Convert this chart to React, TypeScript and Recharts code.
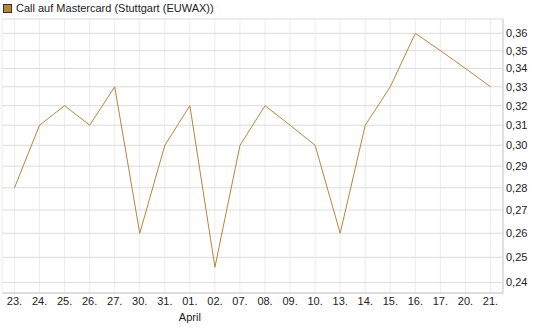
import { LineChart, Line, XAxis, YAxis, CartesianGrid } from "recharts";

const DATES = ["23.", "24.", "25.", "26.", "27.", "30.", "31.", "01.", "02.", "07.", "08.", "09.", "10.", "13.", "14.", "15.", "16.", "17.", "20.", "21."];
const PRICES = [0.28, 0.31, 0.32, 0.31, 0.33, 0.26, 0.3, 0.32, 0.246, 0.3, 0.32, 0.31, 0.3, 0.26, 0.31, 0.33, 0.36, 0.35, 0.34, 0.33];
const MONTHS: Record<string, string> = { "01.": "April" };
const Y_TICKS = [0.24, 0.25, 0.26, 0.27, 0.28, 0.29, 0.3, 0.31, 0.32, 0.33, 0.34, 0.35, 0.36];

const data = DATES.map((d, i) => ({ date: d, price: PRICES[i] }));

const FONT = "'Liberation Sans', Arial, sans-serif";
const LINE = "#b5853d";

function DateTick(props: any) {
  const { x, y, payload } = props;
  const month = MONTHS[payload.value];
  return (
    <g>
      <text x={x} y={y + 4} textAnchor="middle" fontSize={11} fill="#222" fontFamily={FONT}>
        {payload.value}
      </text>
      {month && (
        <text x={x} y={y + 20} textAnchor="middle" fontSize={11} fill="#222" fontFamily={FONT}>
          {month}
        </text>
      )}
    </g>
  );
}

export default function App() {
  return (
    <div style={{ position: "absolute", left: 0, top: 0, width: 545, height: 327, background: "#fff" }}>
      <div
        style={{
          position: "absolute",
          left: 3,
          top: 2,
          fontFamily: FONT,
          fontSize: 11,
          color: "#222",
          display: "flex",
          alignItems: "center",
        }}
      >
        <span
          style={{
            display: "inline-block",
            width: 7,
            height: 7,
            background: LINE,
            border: "1px solid #333",
            marginRight: 4,
          }}
        />
        <span>{"Call auf Mastercard  (Stuttgart (EUWAX))"}</span>
      </div>
      <LineChart width={545} height={327} data={data} margin={{ top: 19, right: 0, left: 2, bottom: 0 }}>
        <CartesianGrid stroke="#ededed" horizontal={false} vertical={true} />
        <CartesianGrid stroke="#dcdcdc" vertical={false} horizontal={true} yAxisId="price" />
        <XAxis
          dataKey="date"
          height={34}
          padding={{ left: 12.5, right: 12.5 }}
          axisLine={{ stroke: "#cccccc" }}
          tickLine={false}
          tick={<DateTick />}
          interval={0}
        />
        <YAxis
          yAxisId="left"
          orientation="left"
          width={0}
          tick={false}
          tickLine={false}
          axisLine={{ stroke: "#cccccc" }}
        />
        <YAxis
          yAxisId="price"
          orientation="right"
          width={42}
          scale="log"
          domain={[0.2359, 0.3685]}
          allowDataOverflow
          ticks={Y_TICKS}
          interval={0}
          tickLine={false}
          tickSize={0}
          tickMargin={3}
          axisLine={{ stroke: "#cccccc" }}
          tick={{ fontSize: 11, fill: "#222", fontFamily: FONT }}
          tickFormatter={(v: number) => v.toFixed(2).replace(".", ",")}
        />
        <Line
          yAxisId="price"
          type="linear"
          dataKey="price"
          stroke={LINE}
          strokeWidth={1}
          dot={false}
          isAnimationActive={false}
        />
      </LineChart>
    </div>
  );
}
